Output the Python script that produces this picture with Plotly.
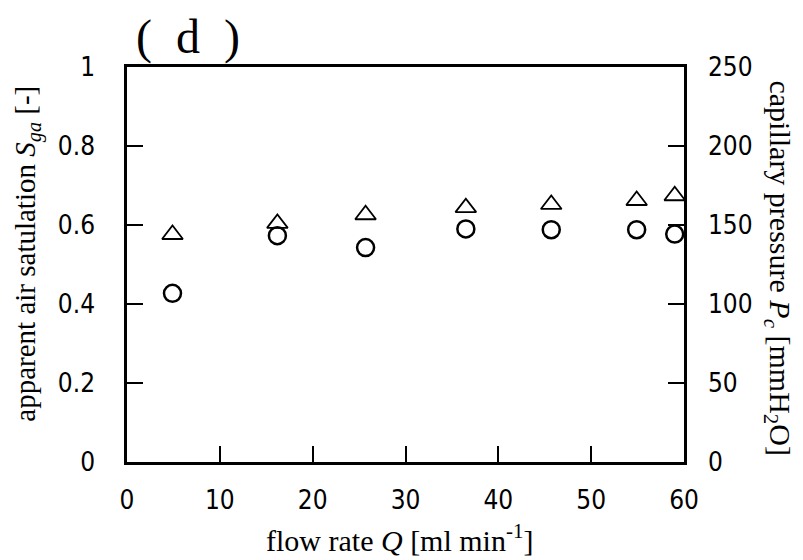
import plotly.graph_objects as go

flow_rate = [4.9, 16.2, 25.7, 36.5, 45.7, 54.9, 59.0]
air_saturation = [0.427, 0.573, 0.543, 0.590, 0.588, 0.588, 0.577]
capillary_pressure = [144, 151, 156.5, 161, 163, 165.5, 168.5]

x_ticks = [0, 10, 20, 30, 40, 50, 60]
left_ticks = [0, 0.2, 0.4, 0.6, 0.8, 1]
left_labels = ["0", "0.2", "0.4", "0.6", "0.8", "1"]
right_ticks = [0, 50, 100, 150, 200, 250]

tick_font = dict(family="DejaVu Sans Condensed, Liberation Sans Narrow, sans-serif", size=26, color="black")
serif = "Liberation Serif, Times New Roman, serif"

fig = go.Figure()
fig.add_trace(go.Scatter(
    x=flow_rate, y=air_saturation, mode="markers", yaxis="y",
    marker=dict(symbol="circle-open", size=17, color="black", line=dict(width=2.5, color="black")),
    showlegend=False, cliponaxis=False))
fig.add_trace(go.Scatter(
    x=flow_rate, y=capillary_pressure, mode="markers", yaxis="y2",
    marker=dict(symbol="triangle-up-open", size=18, color="black", line=dict(width=1.8, color="black")),
    showlegend=False, cliponaxis=False))

axis_common = dict(showgrid=False, zeroline=False, showline=True, linecolor="black", linewidth=2.5,
                   ticks="inside", ticklen=16, tickwidth=1.5, tickcolor="black", tickfont=tick_font)

fig.update_layout(
    width=795, height=552,
    margin=dict(l=119, r=119, t=59, b=98),
    paper_bgcolor="white", plot_bgcolor="white",
    xaxis=dict(range=[0, 60], tickvals=x_ticks, mirror=True, ticklabelstandoff=13, **axis_common),
    yaxis=dict(range=[0, 1], tickvals=left_ticks, ticktext=left_labels, ticklabelstandoff=24, **axis_common),
    yaxis2=dict(range=[0, 250], tickvals=right_ticks, overlaying="y", side="right", ticklabelstandoff=16, **axis_common),
    annotations=[
        dict(text="(\u2002d\u2002)", xref="paper", yref="paper", x=0.11, y=1.075, showarrow=False,
             font=dict(family=serif, size=48, color="black"), xanchor="center", yanchor="middle"),
        dict(text="apparent air satulation <i>S</i><sub><i>ga</i></sub> [-]", xref="paper", yref="paper",
             x=-0.178, y=0.527, textangle=-90, showarrow=False,
             font=dict(family=serif, size=29, color="black"), xanchor="center", yanchor="middle"),
        dict(text="capillary pressure <i>P</i><sub><i>c</i></sub> [mmH<sub>2</sub>O]", xref="paper", yref="paper",
             x=1.1688, y=0.49, textangle=90, showarrow=False,
             font=dict(family=serif, size=30, color="black"), xanchor="center", yanchor="middle"),
        dict(text="flow rate <i>Q</i> [ml min<sup>-1</sup>]", xref="paper", yref="paper",
             x=0.49, y=-0.192, showarrow=False,
             font=dict(family=serif, size=30, color="black"), xanchor="center", yanchor="middle"),
    ],
)

fig.write_html("out.html")
